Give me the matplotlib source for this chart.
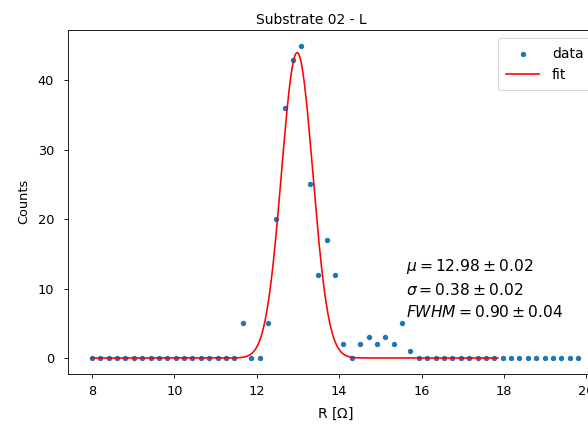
import numpy as np
import matplotlib
matplotlib.use("Agg")
import matplotlib.pyplot as plt

# histogram bins (left edges) and counts
bin_edges = np.linspace(8, 20, 60)
R = bin_edges[:-1]
counts = [0, 0, 0, 0, 0, 0, 0, 0, 0, 0,
          0, 0, 0, 0, 0, 0, 0, 0, 5, 0,
          0, 5, 20, 36, 43, 45, 25, 12, 17, 12,
          2, 0, 2, 3, 2, 3, 2, 5, 1, 0,
          0, 0, 0, 0, 0, 0, 0, 0, 0, 0,
          0, 0, 0, 0, 0, 0, 0, 0, 0]

# gaussian fit results
A = 44.0
mu, dmu = 12.98, 0.02
sigma, dsigma = 0.38, 0.02
fwhm, dfwhm = 0.90, 0.04
fit_end = 17.85


def gauss(x, a, m, s):
    return a * np.exp(-(x - m) ** 2 / (2 * s ** 2))


def main():
    dpi = 77
    plt.rcParams['font.size'] = 12
    fig = plt.figure(figsize=(588 / dpi, 430 / dpi), dpi=dpi)
    # axes runs past the right edge, like the cropped original
    ax = fig.add_axes([67.6 / 588, 56.4 / 430, 534.8 / 588, 343.6 / 430])

    x_fit = np.linspace(R[0], fit_end, 500)
    ax.scatter(R, counts, s=16, color='#1f77b4', label='data', zorder=2)
    ax.plot(x_fit, gauss(x_fit, A, mu, sigma), color='r', lw=1.5, label='fit', zorder=3)

    txt = (r'$\mu = %.2f \pm %.2f$' % (mu, dmu) + '\n' +
           r'$\sigma = %.2f \pm %.2f$' % (sigma, dsigma) + '\n' +
           r'$FWHM = %.2f \pm %.2f$' % (fwhm, dfwhm))
    ax.text(15.62, 10.0, txt, va='center', ha='left', fontsize=14.5, linespacing=1.45)

    ax.tick_params(axis='x', labelsize=12, pad=7)
    ax.tick_params(axis='y', labelsize=12, pad=9)
    ax.set_xlabel(r'R [$\Omega$]', fontsize=13, labelpad=7)
    ax.set_ylabel('Counts', fontsize=12, labelpad=7)
    ax.set_title('Substrate 02 - L', x=0.455, fontsize=13)
    ax.legend(loc='upper left', bbox_to_anchor=(497.7 / 588, 1 - 38.4 / 430),
              bbox_transform=fig.transFigure, borderaxespad=0,
              fontsize=13, borderpad=0.6, handlelength=2.4, handletextpad=0.9)

    fig.savefig('out.png', dpi=dpi)


if __name__ == "__main__":
    main()
